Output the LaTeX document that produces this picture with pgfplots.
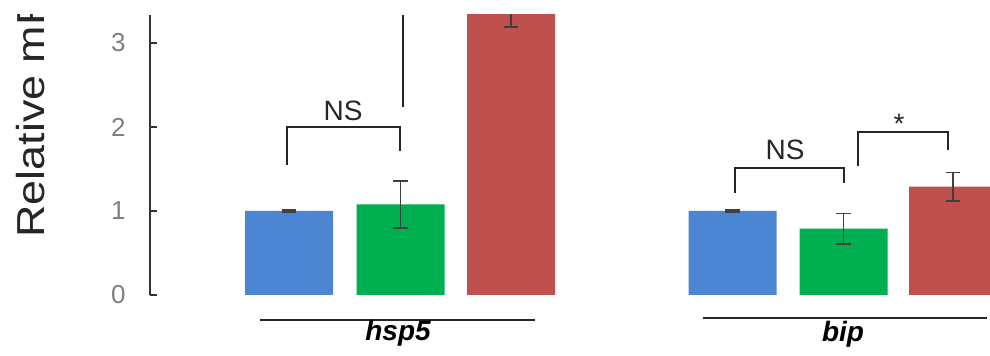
\documentclass[border=0pt]{standalone}
\usepackage{fontspec}
\setmainfont{Liberation Sans}
\usepackage{graphicx}
\usepackage{pgfplots}
\pgfplotsset{compat=1.18}
\definecolor{cblue}{HTML}{4C86D3}
\definecolor{cgreen}{HTML}{00B050}
\definecolor{cred}{HTML}{C0504D}
\definecolor{axgray}{HTML}{333333}
\definecolor{lblgray}{HTML}{7F7F7F}
\definecolor{errgray}{HTML}{404040}
\begin{document}
\begin{tikzpicture}
\useasboundingbox (0,0) rectangle (495pt,178pt);
\clip (0,0) rectangle (495pt,170.5pt);
\node[rotate=90, anchor=base west, inner sep=0pt, font=\fontsize{19.5}{22}\selectfont, text=black!85] at (22pt,59pt) {\scalebox{1.15}[1]{Relative mRNA expression}};
\begin{axis}[
  at={(75pt,30.5pt)}, anchor=south west,
  width=420pt, height=140pt, scale only axis,
  xmin=150, xmax=990, ymin=0, ymax=3.3333,
  axis y line=left, axis x line=none,
  y axis line style={-, line width=1pt, color=axgray},
  ytick={0,1,2,3}, xtick=\empty,
  tick align=inside, major tick length=3.5pt,
  ytick style={line width=1pt, color=axgray},
  yticklabel style={font=\fontsize{13}{15}\selectfont, text=lblgray, inner sep=0pt, xshift=-12pt},
  /pgf/number format/assume math mode=true,
  clip=false,
]
\pgfplotsset{
  mybar/.style={ybar, bar width=44pt, bar shift=0pt, draw=none, fill=#1,
    error bars/.cd, y dir=both, y explicit,
    error bar style={line width=0.8pt, color=errgray},
    error mark options={rotate=90, mark size=3.7pt, line width=0.8pt, color=errgray}},
}
\begin{scope}
\clip (axis cs:150,0) rectangle (axis cs:990,3.3333);
\addplot[mybar=cblue] coordinates {(289,1.00) +- (0,0.01) (732.5,1.00) +- (0,0.01)};
\addplot[mybar=cgreen] coordinates {(400.5,1.08) +- (0,0.28) (843.5,0.79) +- (0,0.18)};
\addplot[mybar=cred] coordinates {(511,3.50) +- (0,0.31) (953,1.29) +- (0,0.17)};
\end{scope}
% significance brackets
\draw[line width=1pt, color=black!85] (axis cs:287,1.548) |- (axis cs:400,2.0) -- (axis cs:400,1.714);
\draw[line width=1pt, color=black!85] (axis cs:403,2.238) -- (axis cs:403,3.3333);
\node[font=\fontsize{14}{16}\selectfont, text=black!85] at (axis cs:343,2.19) {NS};
\draw[line width=1pt, color=black!85] (axis cs:735,1.214) |- (axis cs:844,1.512) -- (axis cs:844,1.333);
\node[font=\fontsize{14}{16}\selectfont, text=black!85] at (axis cs:785,1.726) {NS};
\draw[line width=1pt, color=black!85] (axis cs:858,1.536) |- (axis cs:948,1.940) -- (axis cs:948,1.726);
\node[font=\fontsize{14}{16}\selectfont, text=black!85] at (axis cs:899,2.04) {*};
% gene underlines and names
\draw[line width=1pt, color=black!85] (axis cs:260,-0.298) -- (axis cs:535,-0.298);
\draw[line width=1pt, color=black!85] (axis cs:703,-0.274) -- (axis cs:987,-0.274);
\node[font=\bfseries\itshape\fontsize{14}{16}\selectfont] at (axis cs:398,-0.46) {hsp5};
\node[font=\bfseries\itshape\fontsize{14}{16}\selectfont] at (axis cs:843,-0.47) {bip};
\end{axis}
\end{tikzpicture}
\end{document}
